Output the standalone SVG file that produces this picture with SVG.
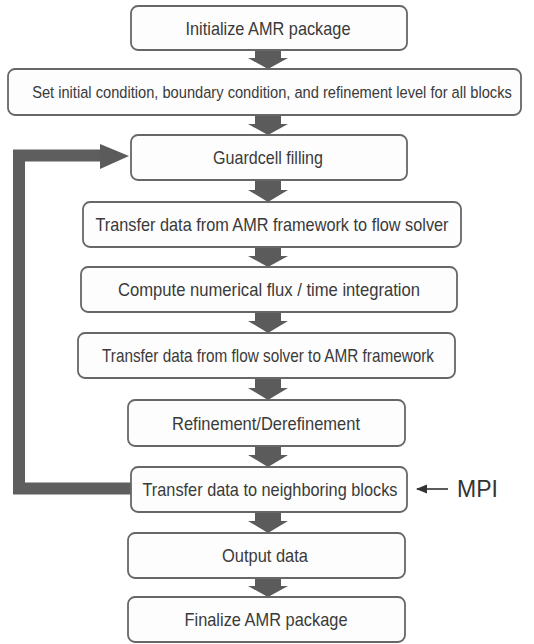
<svg xmlns="http://www.w3.org/2000/svg" width="534" height="644" viewBox="0 0 534 644">
  <defs>
    <style>
      .box { fill: #fdfdfd; stroke: #676767; stroke-width: 1.8; }
      .lbl { font-family: "Liberation Sans", Arial, sans-serif; font-size: 19px; fill: #3a3a3a; text-anchor: middle; }
      .small { font-size: 17px; }
      .flow { fill: #5b5b5b; }
      .loop { fill: none; stroke: #5e5e5e; stroke-width: 12; }
    </style>
    <marker id="thin-head" viewBox="0 0 10 10" refX="9" refY="5" markerWidth="7" markerHeight="7" orient="auto">
      <path d="M0 1 L10 5 L0 9 Z" fill="#333"/>
    </marker>
  </defs>
  <rect width="534" height="644" fill="#ffffff"/>

  <g id="connectors">
    <polygon class="flow" points="255,50 281,50 281,58 288,58 268,69 248,58 255,58"/>
    <polygon class="flow" points="255,115 281,115 281,124 288,124 268,135 248,124 255,124"/>
    <polygon class="flow" points="255,180 281,180 281,190 288,190 268,202 248,190 255,190"/>
    <polygon class="flow" points="255,247 281,247 281,256 288,256 268,267 248,256 255,256"/>
    <polygon class="flow" points="255,312 281,312 281,321 288,321 268,333 248,321 255,321"/>
    <polygon class="flow" points="255,378 281,378 281,388 288,388 268,400 248,388 255,388"/>
    <polygon class="flow" points="255,446 281,446 281,455 288,455 268,467 248,455 255,455"/>
    <polygon class="flow" points="255,512 281,512 281,521 288,521 268,533 248,521 255,521"/>
    <polygon class="flow" points="255,578 281,578 281,586 288,586 268,597 248,586 255,586"/>
    <path class="loop" d="M131 488.5 H19 V155.5 H102"/>
    <polygon class="flow" points="100,144 129,156 100,169"/>
    <line x1="448" y1="489" x2="417" y2="489" stroke="#333" stroke-width="1.6" marker-end="url(#thin-head)"/>
  </g>

  <g id="init">
    <rect class="box" x="131" y="6" width="276" height="44" rx="7"/>
    <text class="lbl" x="268" y="35" textLength="165" lengthAdjust="spacingAndGlyphs">Initialize AMR package</text>
  </g>
  <g id="setup">
    <rect class="box" x="8" y="69" width="513" height="46" rx="7"/>
    <text class="lbl small" transform="translate(272 98) scale(0.82 1)" x="0" y="0" textLength="585" lengthAdjust="spacingAndGlyphs">Set initial condition, boundary condition, and refinement level for all blocks</text>
  </g>
  <g id="guardcell">
    <rect class="box" x="131" y="135" width="276" height="45" rx="7"/>
    <text class="lbl" x="268" y="164" textLength="110" lengthAdjust="spacingAndGlyphs">Guardcell filling</text>
  </g>
  <g id="amr-to-solver">
    <rect class="box" x="83" y="202" width="378" height="45" rx="7"/>
    <text class="lbl" x="272" y="231" textLength="353" lengthAdjust="spacingAndGlyphs">Transfer data from AMR framework to flow solver</text>
  </g>
  <g id="compute">
    <rect class="box" x="81" y="267" width="376" height="45" rx="7"/>
    <text class="lbl" x="269" y="296" textLength="302" lengthAdjust="spacingAndGlyphs">Compute numerical flux / time integration</text>
  </g>
  <g id="solver-to-amr">
    <rect class="box" x="78" y="333" width="377" height="45" rx="7"/>
    <text class="lbl" x="268" y="362" textLength="332" lengthAdjust="spacingAndGlyphs">Transfer data from flow solver to AMR framework</text>
  </g>
  <g id="refine">
    <rect class="box" x="128" y="400" width="277" height="46" rx="7"/>
    <text class="lbl" x="266" y="430" textLength="188" lengthAdjust="spacingAndGlyphs">Refinement/Derefinement</text>
  </g>
  <g id="neighbor">
    <rect class="box" x="131" y="467" width="276" height="45" rx="7"/>
    <text class="lbl" x="270" y="496" textLength="255" lengthAdjust="spacingAndGlyphs">Transfer data to neighboring blocks</text>
  </g>
  <g id="output">
    <rect class="box" x="128" y="533" width="277" height="45" rx="7"/>
    <text class="lbl" x="265" y="562" textLength="86" lengthAdjust="spacingAndGlyphs">Output data</text>
  </g>
  <g id="finalize">
    <rect class="box" x="128" y="597" width="277" height="45" rx="7"/>
    <text class="lbl" x="266" y="626" textLength="163" lengthAdjust="spacingAndGlyphs">Finalize AMR package</text>
  </g>

  <g id="mpi">
    <text x="457" y="497" font-family="'Liberation Sans', Arial, sans-serif" font-size="23" fill="#333">MPI</text>
  </g>
</svg>
